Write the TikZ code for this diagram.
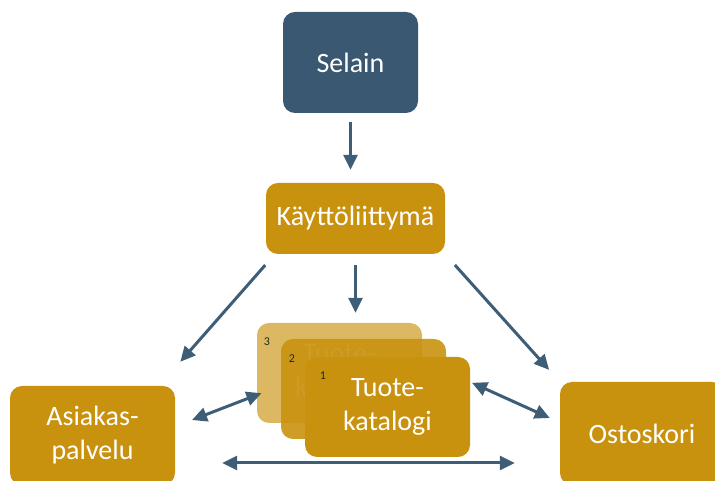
\documentclass[tikz,border=0pt]{standalone}
\usepackage{fontspec}
\setmainfont{Carlito}
\usepackage{tikz}
\usetikzlibrary{arrows.meta,positioning,calc}
\definecolor{kaupblue}{HTML}{3A5872}
\definecolor{kaupgold}{HTML}{C9920E}
\definecolor{kauparrow}{HTML}{3E5E78}

\begin{document}
\begin{tikzpicture}[
    x=1pt, y=1pt,
    box/.style={rectangle, rounded corners=12pt, fill=kaupgold, text=white, align=center, font=\fontsize{28}{34}\selectfont, inner sep=0pt},
    topbox/.style={box, fill=kaupblue},
    card/.style={box, minimum width=165pt, minimum height=100pt},
    num/.style={font=\fontsize{12}{14}\selectfont, text=black!85, inner sep=0pt},
    arr/.style={-{Triangle[length=15pt,width=14pt]}, line width=3pt, draw=kauparrow},
    dbl/.style={{Triangle[length=15pt,width=14pt]}-{Triangle[length=15pt,width=14pt]}, line width=3pt, draw=kauparrow}
]
    \useasboundingbox (0,0) rectangle (715,481);
    \clip (0,0) rectangle (715,481);

    % Top
    \node (selain) [topbox, minimum width=135pt, minimum height=101pt] at (350.5,418.5) {Selain};
    \node (ui) [box, minimum width=179pt, minimum height=71pt] at (355.5,262.5) {Käyttöliittymä};

    % Bottom row
    \node (asiakas) [box, minimum width=165pt, minimum height=99pt] at (92.5,45.5) {Asiakas-\\palvelu};
    \node (osto) [box, minimum width=164pt, minimum height=103pt] at (642,47.5) {Ostoskori};

    % Catalogue stack
    \node (kat3) [card, fill opacity=0.65, text opacity=1] at (339.5,108) {Tuote-\\katalogi};
    \node (n3) [num] at ($(kat3.north west)+(10,-19)$) {3};
    \node (kat2) [card, fill opacity=0.9, text opacity=1] at (363.5,92) {Tuote-\\katalogi};
    \node (n2) [num] at ($(kat2.north west)+(11,-20)$) {2};
    \node (kat1) [card] at (387.5,74) {Tuote-\\katalogi};
    \node (n1) [num] at ($(kat1.north west)+(18,-19)$) {1};

    % Connectors
    \draw [arr, shorten <=9pt, shorten >=13pt] (selain.south) -- (selain.south |- ui.north);
    \draw [arr, shorten <=14.5pt, shorten >=32pt] ($(ui.south west)+(9,0)$) -- ($(asiakas.north east)+(-16,0)$);
    \draw [arr, shorten <=11pt, shorten >=10pt] (ui.south) -- (ui.south |- kat3.north);
    \draw [arr, shorten <=14.5pt, shorten >=16pt] (ui.south east) -- (osto.north west);
    \draw [dbl, shorten <=18pt, shorten >=-5pt] ($(asiakas.east)+(0,9)$) -- ($(kat3.west)+(0,-22)$);
    \draw [dbl, shorten <=2pt, shorten >=11pt] ($(kat1.east)+(0,25)$) -- ($(osto.west)+(0,11)$);
    \coordinate (hl) at ($(asiakas.east)+(0,-27.5)$);
    \draw [dbl, shorten <=47pt, shorten >=45pt] (hl) -- (hl -| osto.west);
\end{tikzpicture}
\end{document}
